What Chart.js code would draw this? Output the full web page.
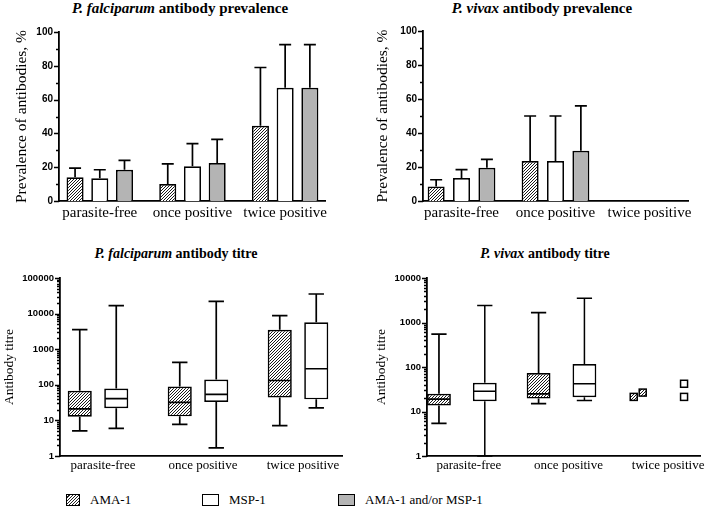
<!DOCTYPE html>
<html>
<head>
<meta charset="utf-8">
<script src="https://cdn.jsdelivr.net/npm/chart.js@4.4.1/dist/chart.umd.min.js"></script>
<style>
    body { margin: 0; width: 709px; height: 509px; background: #fff; position: relative; overflow: hidden; font-family: "Liberation Serif", serif; color: #000; }
    canvas { position: absolute; }
    .ttl { position: absolute; white-space: nowrap; font-weight: bold; transform: translateX(-50%); }
    .ttl.top { font-size: 15px; line-height: 17px; }
    .ttl.bot { font-size: 14px; line-height: 16px; }
    .key { position: absolute; top: 492px; font-size: 13px; line-height: 16px; white-space: nowrap; }
    .key span { position: absolute; top: 2px; height: 12px; border: 1.5px solid #000; box-sizing: border-box; }
</style>
</head>
<body>
<div class="ttl top" style="left:180px;top:0px"><i>P. falciparum</i> antibody prevalence</div>
<div class="ttl top" style="left:542px;top:0px"><i>P. vivax</i> antibody prevalence</div>
<div class="ttl bot" style="left:176px;top:246px"><i>P. falciparum</i> antibody titre</div>
<div class="ttl bot" style="left:545px;top:246px"><i>P. vivax</i> antibody titre</div>

<canvas id="pfPrev" width="345" height="212" style="left:0px;top:16px"></canvas>
<canvas id="pvPrev" width="354" height="212" style="left:355px;top:16px"></canvas>
<canvas id="pfTitre" width="355" height="222" style="left:0px;top:262px"></canvas>
<canvas id="pvTitre" width="354" height="222" style="left:355px;top:262px"></canvas>
<div id="legend"></div>

<script>
var groups = ['parasite-free', 'once positive', 'twice positive'];
var antigens = ['AMA-1', 'MSP-1', 'AMA-1 and/or MSP-1'];

// prevalence of antibodies, % and the top of its error bar
var pfAmaPrev = [14, 10, 44.5];
var pfAmaPrevHi = [19.5, 22, 79];
var pfMspPrev = [13.5, 20.5, 67];
var pfMspPrevHi = [18.5, 34, 92.5];
var pfAnyPrev = [18.5, 22.5, 67];
var pfAnyPrevHi = [24, 36.5, 92.5];

var pvAmaPrev = [8.5, 23.5, null];
var pvAmaPrevHi = [12.5, 50, null];
var pvMspPrev = [13.5, 23.5, null];
var pvMspPrevHi = [18.5, 50, null];
var pvAnyPrev = [19.5, 29.5, null];
var pvAnyPrevHi = [24.5, 56, null];

// antibody titre: min, q1, median, q3, max
var pfAmaTitre = [[5.1, 12.7, 21, 68, 3550], [7.7, 13, 32, 90, 424], [7.1, 44, 132, 3500, 8800]];
var pfMspTitre = [[6, 22, 41, 79, 16700], [1.7, 33, 54, 141, 22000], [22.6, 39, 282, 5700, 35500]];
var pvAmaTitre = [[5.4, 13.6, 19, 25, 550], [15, 19.5, 25, 73, 1670], null];
var pvMspTitre = [[1, 17, 28.5, 44, 2400], [17.6, 21, 42, 117, 3500], null];
// twice positive P. vivax: only single values
var pvAmaTwice = [21.3, 26.6];
var pvMspTwice = [42, 21.3];

var prevTicks = [0, 20, 40, 60, 80, 100];
var prevMinor = [10, 30, 50, 70, 90];
var pfTitreTicks = [1, 10, 100, 1000, 10000, 100000];
var pvTitreTicks = [1, 10, 100, 1000, 10000];

var hatch = makeHatch();
var gray = '#b4b4b4';

function makeHatch() {
    var c = document.createElement('canvas');
    c.width = 3; c.height = 3;
    var g = c.getContext('2d');
    g.fillStyle = '#fff';
    g.fillRect(0, 0, 3, 3);
    g.strokeStyle = '#1a1a1a';
    g.lineWidth = 1;
    g.beginPath();
    g.moveTo(-1, 4); g.lineTo(4, -1);
    g.moveTo(-1, 1); g.lineTo(1, -1);
    g.moveTo(2, 4); g.lineTo(4, 2);
    g.stroke();
    return g.createPattern(c, 'repeat');
}

function logMinor(ticks) {
    var out = [];
    for (var k = 0; k < ticks.length - 1; k++) {
        for (var m = 2; m <= 9; m++) out.push(ticks[k] * m);
    }
    return out;
}

// error bars, whiskers, medians, single points and the y tick marks
var extras = {
    id: 'extras',
    afterDatasetsDraw: function(chart, args, opts) {
        var ctx = chart.ctx, ys = chart.scales.y, area = chart.chartArea;
        ctx.save();
        ctx.strokeStyle = '#000';
        ctx.lineWidth = 1.7;
        chart.data.datasets.forEach(function(ds, d) {
            var meta = chart.getDatasetMeta(d);
            meta.data.forEach(function(bar, i) {
                var x = bar.x;
                if (ds.hi && ds.hi[i] != null) {
                    var yTop = ys.getPixelForValue(ds.hi[i]);
                    ctx.beginPath();
                    ctx.moveTo(x, bar.y); ctx.lineTo(x, yTop);
                    ctx.moveTo(x - 6, yTop); ctx.lineTo(x + 6, yTop);
                    ctx.stroke();
                }
                if (ds.stats && ds.stats[i]) {
                    var s = ds.stats[i].map(function(v) { return ys.getPixelForValue(v); });
                    var half = bar.width * 0.32, w2 = bar.width / 2 - 1;
                    ctx.beginPath();
                    ctx.moveTo(x, s[3]); ctx.lineTo(x, s[4]);
                    ctx.moveTo(x - half, s[4]); ctx.lineTo(x + half, s[4]);
                    ctx.moveTo(x, s[1]); ctx.lineTo(x, s[0]);
                    ctx.moveTo(x - half, s[0]); ctx.lineTo(x + half, s[0]);
                    ctx.moveTo(x - w2, s[2]); ctx.lineTo(x + w2, s[2]);
                    ctx.stroke();
                }
                if (ds.single && ds.single[i]) {
                    var pts = ds.single[i];
                    var py = pts.map(function(v) { return ys.getPixelForValue(v); });
                    var close = py.some(function(p, a) {
                        return py.some(function(q, b) { return a != b && Math.abs(p - q) < 8; });
                    });
                    py.forEach(function(p, k) {
                        var px = close ? x + (k - (pts.length - 1) / 2) * 9 : x;
                        ctx.fillStyle = ds.backgroundColor;
                        ctx.fillRect(px - 3.5, p - 3.5, 7, 7);
                        ctx.lineWidth = 1.5;
                        ctx.strokeRect(px - 3.5, p - 3.5, 7, 7);
                    });
                }
            });
        });
        // y tick marks, long for labelled ticks and short for the rest
        ctx.lineWidth = 1.3;
        ctx.beginPath();
        ys.ticks.forEach(function(t) {
            var p = Math.round(ys.getPixelForValue(t.value)) + 0.5;
            ctx.moveTo(area.left, p); ctx.lineTo(area.left - 5, p);
        });
        (opts.minor || []).forEach(function(v) {
            var p = Math.round(ys.getPixelForValue(v)) + 0.5;
            ctx.moveTo(area.left, p); ctx.lineTo(area.left - 3, p);
        });
        ctx.stroke();
        ctx.restore();
    }
};

function toPoints(vals) {
    return vals.map(function(v, i) { return { x: i, y: v }; });
}
function toBoxes(stats) {
    return stats.map(function(s, i) { return { x: i, y: s ? [s[1], s[3]] : null }; });
}

function makeChart(id, o) {
    return new Chart(document.getElementById(id), {
        type: 'bar',
        data: { datasets: o.datasets },
        options: {
            responsive: false,
            animation: false,
            devicePixelRatio: 1,
            layout: { padding: o.pad },
            datasets: { bar: { categoryPercentage: o.cp, barPercentage: o.bp, borderColor: '#000', borderWidth: 1.7 } },
            plugins: {
                legend: { display: false },
                tooltip: { enabled: false },
                extras: { minor: o.minor }
            },
            scales: {
                x: {
                    type: 'linear',
                    offset: false,
                    min: o.xMin,
                    max: o.xMax,
                    afterBuildTicks: function(s) { s.ticks = groups.map(function(g, i) { return { value: i }; }); },
                    afterFit: function(s) { s.height = o.xH; },
                    grid: { display: false, drawTicks: false },
                    border: { display: true, color: '#000', width: 1.8 },
                    ticks: {
                        callback: function(v) { return groups[v]; },
                        font: { family: "'Liberation Serif', serif", size: o.catSize },
                        color: '#000',
                        padding: o.catPad,
                        labelOffset: o.labelShift || 0,
                        maxRotation: 0,
                        autoSkip: false
                    }
                },
                y: {
                    type: o.logY ? 'logarithmic' : 'linear',
                    min: o.yTicks[0],
                    max: o.yTicks[o.yTicks.length - 1],
                    afterBuildTicks: function(s) { s.ticks = o.yTicks.map(function(v) { return { value: v }; }); },
                    afterFit: function(s) { s.width = o.yW; },
                    grid: { display: false, drawTicks: false },
                    border: { display: true, color: '#000', width: 1.8 },
                    ticks: {
                        callback: function(v) { return String(v); },
                        font: { family: "'Liberation Sans', Arial, sans-serif", weight: 'bold', size: o.tickSize },
                        color: '#000',
                        padding: 6
                    },
                    title: {
                        display: true,
                        text: o.yTitle,
                        font: { family: "'Liberation Serif', serif", size: o.titleSize },
                        color: '#000',
                        padding: { top: o.titlePad }
                    }
                }
            }
        },
        plugins: [extras]
    });
}

function prevSets(ama, amaHi, msp, mspHi, any, anyHi) {
    return [
        { label: antigens[0], data: toPoints(ama), hi: amaHi, backgroundColor: hatch },
        { label: antigens[1], data: toPoints(msp), hi: mspHi, backgroundColor: '#fff' },
        { label: antigens[2], data: toPoints(any), hi: anyHi, backgroundColor: gray }
    ];
}

makeChart('pfPrev', {
    datasets: prevSets(pfAmaPrev, pfAmaPrevHi, pfMspPrev, pfMspPrevHi, pfAnyPrev, pfAnyPrevHi),
    pad: { top: 16, right: 20, left: 0, bottom: 0 },
    xMin: -0.44, xMax: 2.43, xH: 27, yW: 59,
    cp: 0.8, bp: 0.69,
    yTicks: prevTicks, minor: prevMinor,
    yTitle: 'Prevalence of antibodies, %', titleSize: 15.5, titlePad: 13,
    tickSize: 10, catSize: 15, catPad: 3
});

makeChart('pvPrev', {
    datasets: prevSets(pvAmaPrev, pvAmaPrevHi, pvMspPrev, pvMspPrevHi, pvAnyPrev, pvAnyPrevHi),
    pad: { top: 15, right: 21, left: 0, bottom: 0 },
    xMin: -0.41, xMax: 2.41, xH: 27, yW: 68,
    cp: 0.81, bp: 0.67,
    yTicks: prevTicks, minor: prevMinor,
    yTitle: 'Prevalence of antibodies, %', titleSize: 15.5, titlePad: 19,
    tickSize: 10, catSize: 15, catPad: 3
});

makeChart('pfTitre', {
    datasets: [
        { label: antigens[0], data: toBoxes(pfAmaTitre), stats: pfAmaTitre, backgroundColor: hatch, borderSkipped: false },
        { label: antigens[1], data: toBoxes(pfMspTitre), stats: pfMspTitre, backgroundColor: '#fff', borderSkipped: false }
    ],
    pad: { top: 16, right: 13, left: 0, bottom: 0 },
    xMin: -0.38, xMax: 2.44, xH: 28, yW: 60,
    cp: 0.73, bp: 0.66,
    logY: true, yTicks: pfTitreTicks, minor: logMinor(pfTitreTicks),
    yTitle: 'Antibody titre', titleSize: 13.5, titlePad: 1,
    tickSize: 9.5, catSize: 13, catPad: 2, labelShift: 5
});

makeChart('pvTitre', {
    datasets: [
        { label: antigens[0], data: toBoxes(pvAmaTitre), stats: pvAmaTitre, single: [null, null, pvAmaTwice], backgroundColor: hatch, borderSkipped: false },
        { label: antigens[1], data: toBoxes(pvMspTitre), stats: pvMspTitre, single: [null, null, pvMspTwice], backgroundColor: '#fff', borderSkipped: false }
    ],
    pad: { top: 16, right: 9, left: 0, bottom: 0 },
    xMin: -0.35, xMax: 2.39, xH: 28, yW: 72,
    cp: 0.92, bp: 0.52,
    logY: true, yTicks: pvTitreTicks, minor: logMinor(pvTitreTicks),
    yTitle: 'Antibody titre', titleSize: 13.5, titlePad: 18,
    tickSize: 9.5, catSize: 13, catPad: 2, labelShift: 7
});

// legend below the panels
var keyX = [66, 202, 338];
var keyW = [14, 17, 17];
var keyFill = ['repeating-linear-gradient(-45deg, #222 0 1px, #fff 1px 2.2px)', '#fff', gray];
var legend = document.getElementById('legend');
antigens.forEach(function(name, i) {
    var k = document.createElement('div');
    k.className = 'key';
    k.style.left = keyX[i] + 'px';
    k.style.paddingLeft = (keyW[i] + 10) + 'px';
    var sw = document.createElement('span');
    sw.style.left = '0px';
    sw.style.width = keyW[i] + 'px';
    sw.style.background = keyFill[i];
    k.appendChild(sw);
    k.appendChild(document.createTextNode(name));
    legend.appendChild(k);
});
</script>
</body>
</html>
